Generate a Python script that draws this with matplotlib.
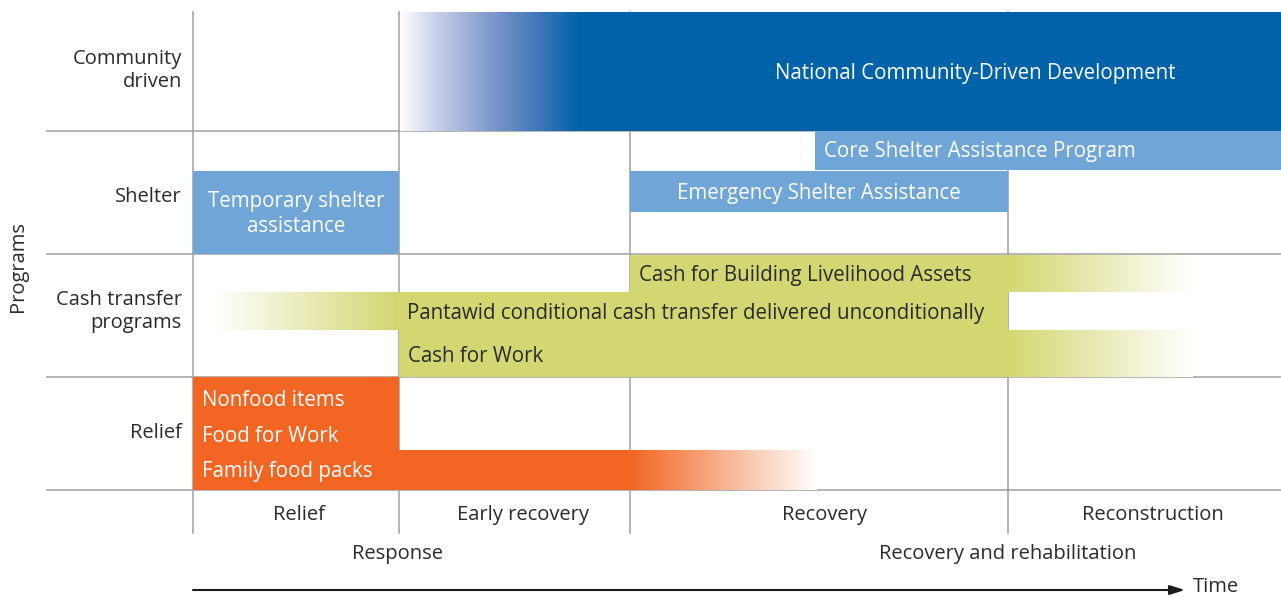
import numpy as np
import matplotlib
matplotlib.use("Agg")
import matplotlib.pyplot as plt
from matplotlib.colors import LinearSegmentedColormap

plt.rcParams['font.family'] = ['Open Sans', 'DejaVu Sans']

# ---- data (time axis in arbitrary units; lanes in layout units) ----
phase_names = ["Relief", "Early recovery", "Recovery", "Reconstruction"]
phase_bounds = [193, 399, 630, 1008, 1281]
group_names = ["Response", "Recovery and rehabilitation"]

row_names = ["Community\ndriven", "Shelter", "Cash transfer\nprograms", "Relief"]
row_bounds = [12, 131, 254, 377, 490]

# program: label, fade_in_start, solid_start, solid_end, fade_out_end, lane_top, lane_bottom, kind
prog_labels = ["National Community-Driven Development",
               "Core Shelter Assistance Program",
               "Emergency Shelter Assistance",
               "Temporary shelter\nassistance",
               "Cash for Building Livelihood Assets",
               "Pantawid conditional cash transfer delivered unconditionally",
               "Cash for Work",
               "Nonfood items",
               "Food for Work",
               "Family food packs"]
prog_fade_in = [400, 815, 630, 193, 630, 213, 399, 193, 193, 193]
prog_solid_start = [580, 815, 630, 193, 630, 398, 399, 193, 193, 193]
prog_solid_end = [1281, 1281, 1008, 399, 1008, 1008, 1008, 399, 399, 630]
prog_fade_out = [1281, 1281, 1008, 399, 1193, 1008, 1193, 399, 399, 817]
prog_top = [12, 131, 171, 171, 255, 292, 330, 377, 421, 450]
prog_bottom = [131, 170, 212, 254, 292, 330, 377, 421, 450, 490]
prog_kind = ["cdd", "shelter", "shelter", "shelter", "cash", "cash", "cash",
             "relief", "relief", "relief"]

colors = {"cdd": "#0062a9", "shelter": "#6fa5d7", "cash": "#d3d772", "relief": "#f26522"}
text_colors = {"cdd": "white", "shelter": "white", "cash": "#2b2b2b", "relief": "white"}
grid_color = "#a8a8a8"
text_dark = "#2b2b2b"
FS_BAR = 14.8
FS_LAB = 14.5

W, H = 1281, 597
fig = plt.figure(figsize=(W / 100, H / 100), dpi=100)
ax = fig.add_axes([0, 0, 1, 1])
ax.set_xlim(0, W)
ax.set_ylim(H, 0)
ax.axis("off")

# grid lines (beneath bars)
for xb in phase_bounds[:-1]:
    ax.plot([xb, xb], [row_bounds[0], 533], color=grid_color, lw=1.2, zorder=1)
for yb in row_bounds[1:]:
    ax.plot([47, W], [yb, yb], color=grid_color, lw=1.2, zorder=1)

def cmap_for(kind):
    c = colors[kind]
    if kind == "cdd":
        return LinearSegmentedColormap.from_list(
            "g", [(0, "#ffffff"), (0.2, "#c9d0e8"), (0.5, "#8099cb"), (0.8, "#3a73b7"), (1.0, c)])
    return LinearSegmentedColormap.from_list("g", [(0, "#ffffff"), (1.0, c)])

for i, lab in enumerate(prog_labels):
    kind = prog_kind[i]
    c = colors[kind]
    t, b = prog_top[i], prog_bottom[i]
    fi, ss, se, fo = prog_fade_in[i], prog_solid_start[i], prog_solid_end[i], prog_fade_out[i]
    cm = cmap_for(kind)
    if ss > fi:
        grad = np.linspace(0, 1, 256)[None, :]
        ax.imshow(grad, cmap=cm, extent=[fi, ss, b, t], aspect="auto", zorder=2,
                  interpolation="bilinear")
    ax.fill_between([ss, se], t, b, color=c, lw=0, zorder=2)
    if fo > se:
        grad = np.linspace(1, 0, 256)[None, :]
        ax.imshow(grad, cmap=cm, extent=[se, fo, b, t], aspect="auto", zorder=2,
                  interpolation="bilinear")
    ymid = (t + b) / 2 + (3 if kind == "cash" and t > 260 else 1.5)
    if kind == "cdd":
        ax.text((phase_bounds[2] + phase_bounds[4]) / 2 + 20, ymid, lab, ha="center",
                va="center", color=text_colors[kind], fontsize=FS_BAR, zorder=3)
    elif kind == "shelter" and i != 1:
        ax.text((ss + se) / 2, ymid, lab, ha="center", va="center", color=text_colors[kind],
                fontsize=FS_BAR, zorder=3, linespacing=1.25)
    else:
        x0 = max(ss, fi)
        ax.text(x0 + 9, ymid, lab, ha="left", va="center",
                color=text_colors[kind], fontsize=FS_BAR, zorder=3)

ax.set_ylim(H, 0)
ax.set_xlim(0, W)

# row labels
row_label_shift = [-1, 4, -4, 0]
for k, name in enumerate(row_names):
    ym = (row_bounds[k] + row_bounds[k + 1]) / 2 + row_label_shift[k]
    ax.text(182, ym, name, ha="right", va="center", color=text_dark, fontsize=FS_LAB,
            linespacing=1.25)

ax.text(18, 267, "Programs", rotation=90, ha="center", va="center", color=text_dark,
        fontsize=FS_LAB)

# phase labels
phase_label_x = [299, 523, 825, 1153]
for name, xm in zip(phase_names, phase_label_x):
    ax.text(xm, 515, name, ha="center", va="center", color=text_dark, fontsize=FS_LAB)

group_centers = [397, 1008]
for name, xc in zip(group_names, group_centers):
    ax.text(xc, 554, name, ha="center", va="center", color=text_dark, fontsize=FS_LAB)

ax.annotate("", xy=(1185, 590), xytext=(193, 590),
            arrowprops=dict(arrowstyle="-|>,head_length=0.9,head_width=0.28", color="#1a1a1a",
                            lw=1.5, shrinkA=0, shrinkB=0))
ax.text(1193, 587, "Time", ha="left", va="center", color=text_dark, fontsize=FS_LAB)

fig.savefig("out.png", dpi=100)
